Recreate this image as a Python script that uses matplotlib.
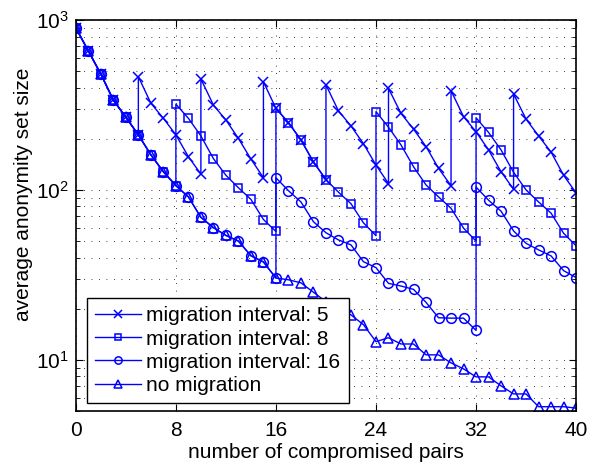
import matplotlib
matplotlib.use("Agg")
import matplotlib.pyplot as plt
from matplotlib.ticker import LogLocator, NullFormatter, FixedLocator

plt.rcParams['font.family'] = ['Liberation Sans', 'DejaVu Sans']
plt.rcParams['mathtext.fontset'] = 'custom'
plt.rcParams['mathtext.rm'] = 'Liberation Sans'
plt.rcParams['mathtext.it'] = 'Liberation Sans:italic'

# ---- data ----
# no migration baseline, x = 0..40
base_x = list(range(0, 41))
base_y = [900, 658, 481, 338, 268, 211, 161, 128, 106, 91,
          69, 60, 54, 50, 41, 37.7, 30.3, 29.6, 28.4, 25,
          22, 20, 18.4, 16.1, 12.8, 13.5, 12.4, 12.4, 10.7, 10.7,
          9.6, 8.85, 7.94, 7.94, 7.03, 6.3, 6.3, 5.3, 5.3, 5.3, 5.2]

# migration interval 5 (x repeated where migration happens)
m5_x = [0, 1, 2, 3, 4, 5,
        5, 6, 7, 8, 9, 10,
        10, 11, 12, 13, 14, 15,
        15, 16, 17, 18, 19, 20,
        20, 21, 22, 23, 24, 25,
        25, 26, 27, 28, 29, 30,
        30, 31, 32, 33, 34, 35,
        35, 36, 37, 38, 39, 40]
m5_y = [900, 658, 481, 338, 268, 211,
        464, 324, 264, 211, 157, 124,
        450, 316, 258, 201, 152, 118,
        433, 302, 249, 197, 146, 115,
        415, 292, 238, 187, 140, 109,
        396, 282, 228, 180, 134, 106,
        384, 270, 220, 172, 128, 101,
        367, 261, 208, 167, 122, 96]

# migration interval 8
m8_x = [0, 1, 2, 3, 4, 5, 6, 7, 8,
        8, 9, 10, 11, 12, 13, 14, 15, 16,
        16, 17, 18, 19, 20, 21, 22, 23, 24,
        24, 25, 26, 27, 28, 29, 30, 31, 32,
        32, 33, 34, 35, 36, 37, 38, 39, 40]
m8_y = [900, 658, 481, 338, 268, 211, 161, 128, 106,
        320, 264, 208, 153, 122, 103, 88, 67, 57,
        302, 249, 197, 146, 115, 97, 83, 64, 53.8,
        289, 234, 184, 137, 107, 91, 78, 59.6, 50,
        266, 218, 172, 127, 100, 85, 73, 55.6, 46.9]

# migration interval 16
m16_x = [0, 1, 2, 3, 4, 5, 6, 7, 8, 9, 10, 11, 12, 13, 14, 15, 16,
         16, 17, 18, 19, 20, 21, 22, 23, 24, 25, 26, 27, 28, 29, 30, 31, 32,
         32, 33, 34, 35, 36, 37, 38, 39, 40]
m16_y = [900, 658, 481, 338, 268, 211, 161, 128, 106, 91, 69, 60, 54, 50, 41, 37.7, 30.3,
         118, 99, 85, 65, 56, 50.8, 47.5, 37.8, 34.9, 28.2, 27.2, 26, 21.8, 17.7, 17.6, 17.6, 14.9,
         104, 87, 75, 57.4, 48.5, 44.4, 40.9, 33.5, 30.5]

labels = ['migration interval: 5', 'migration interval: 8',
          'migration interval: 16', 'no migration']
x_ticks = [0, 8, 16, 24, 32, 40]

# ---- plot ----
fig = plt.figure(figsize=(5.97, 4.66), dpi=100)
ax = fig.add_axes([0.127, 0.118, 0.838, 0.839])

blue = (0, 0, 1)
common = dict(color=blue, lw=1.0, mfc='none', mec=blue, mew=1.1)
ax.plot(m5_x, m5_y, marker='x', ms=7, label=labels[0], **common)
ax.plot(m8_x, m8_y, marker='s', ms=6, label=labels[1], **common)
ax.plot(m16_x, m16_y, marker='o', ms=7, label=labels[2], **common)
ax.plot(base_x, base_y, marker='^', ms=7, label=labels[3], **common)

ax.set_yscale('log')
ax.set_xlim(0, 40)
ax.set_ylim(5, 1000)
ax.xaxis.set_major_locator(FixedLocator(x_ticks))
ax.yaxis.set_major_locator(LogLocator(base=10, numticks=10))
ax.yaxis.set_minor_locator(LogLocator(base=10, subs=range(2, 10), numticks=20))
ax.yaxis.set_minor_formatter(NullFormatter())

gls = (0, (1, 8))
ax.grid(True, which='major', axis='both', color='k', linestyle=gls, lw=0.6)
ax.grid(True, which='minor', axis='y', color='k', linestyle=gls, lw=0.6)

ax.tick_params(which='both', direction='in', top=True, right=True, labelsize=15)
ax.tick_params(which='major', length=5)
ax.tick_params(axis='x', which='major', pad=7)
ax.tick_params(axis='y', which='major', pad=5)
ax.tick_params(which='minor', length=3)
for s in ax.spines.values():
    s.set_linewidth(1.2)

ax.set_xlabel('number of compromised pairs', fontsize=15, labelpad=2)
ax.set_ylabel('average anonymity set size', fontsize=15)
ax.yaxis.set_label_coords(-0.086, 0.555)

leg = ax.legend(loc='lower left', bbox_to_anchor=(0.022, 0.02), borderaxespad=0,
                fontsize=15, frameon=True, fancybox=False, markerscale=0.75,
                edgecolor='k', framealpha=1, borderpad=0.4, labelspacing=0.2,
                handlelength=2.2, handletextpad=0.25)
leg.get_frame().set_linewidth(1.0)

fig.savefig('out.png', dpi=100)
